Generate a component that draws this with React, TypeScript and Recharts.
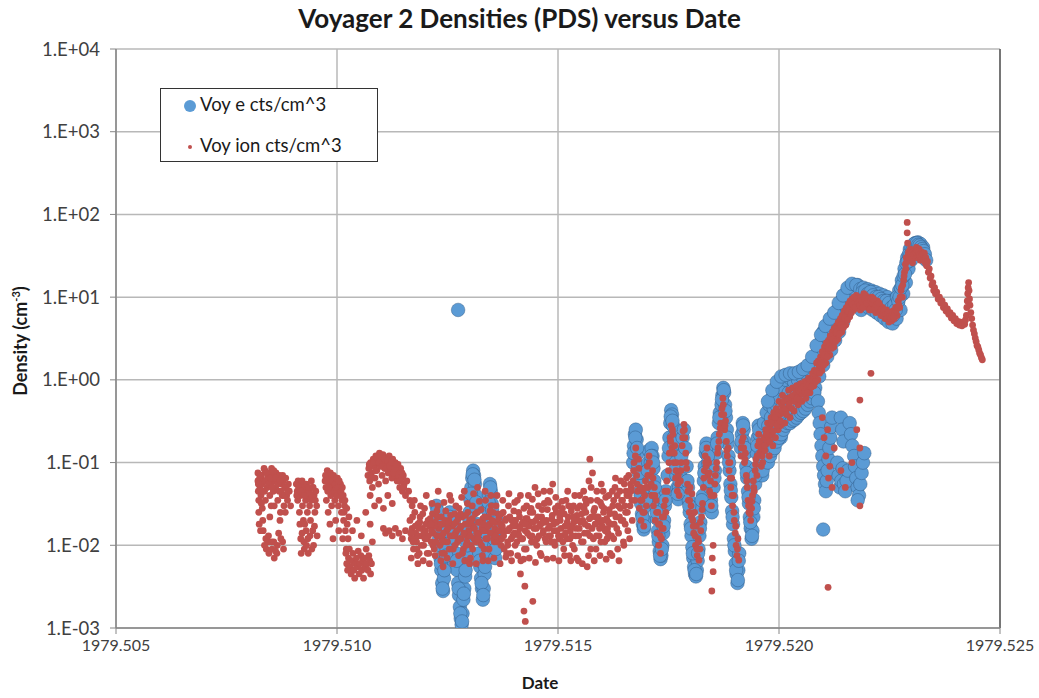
import React from 'react';
import { ScatterChart, Scatter, XAxis, YAxis, CartesianGrid, ReferenceLine } from 'recharts';

type P = [number, number];

const xTicks = [1979.505, 1979.51, 1979.515, 1979.52, 1979.525];
const yTicks = [0.001, 0.01, 0.1, 1, 10, 100, 1000, 10000];

// ---------- Voy ion cts/cm^3 ----------
const ionSeg1: P[] = [
  [1979.50821, 0.075], [1979.50821, 0.06], [1979.50822, 0.045], [1979.50823, 0.035], [1979.50823, 0.025], [1979.50824, 0.018],
  [1979.50825, 0.065], [1979.50826, 0.05], [1979.50828, 0.04], [1979.50829, 0.07], [1979.5083, 0.055], [1979.50831, 0.028],
  [1979.50832, 0.02], [1979.50833, 0.015], [1979.50834, 0.06], [1979.50836, 0.045], [1979.50837, 0.08], [1979.50838, 0.035],
  [1979.50839, 0.012], [1979.5084, 0.009], [1979.50842, 0.05], [1979.50843, 0.065], [1979.50844, 0.011], [1979.50846, 0.008],
  [1979.50847, 0.075], [1979.50848, 0.04], [1979.5085, 0.055], [1979.50851, 0.03], [1979.50852, 0.085], [1979.50853, 0.009],
  [1979.50855, 0.07], [1979.50856, 0.045], [1979.50857, 0.011], [1979.50858, 0.007], [1979.5086, 0.06], [1979.50861, 0.05],
  [1979.50862, 0.075], [1979.50864, 0.008], [1979.50865, 0.01], [1979.50866, 0.035], [1979.50868, 0.065], [1979.50869, 0.045],
  [1979.5087, 0.07], [1979.50872, 0.025], [1979.50873, 0.012], [1979.50875, 0.055], [1979.50876, 0.04], [1979.50878, 0.06],
  [1979.50879, 0.009], [1979.5088, 0.03], [1979.50882, 0.05], [1979.50884, 0.065], [1979.50886, 0.04], [1979.50888, 0.035],
  [1979.5089, 0.055], [1979.50892, 0.045], [1979.50895, 0.03],
  [1979.50822, 0.055], [1979.50827, 0.07], [1979.50831, 0.045], [1979.50835, 0.085], [1979.50838, 0.06], [1979.50841, 0.075],
  [1979.50845, 0.055], [1979.50849, 0.065], [1979.50853, 0.05], [1979.50857, 0.08], [1979.50861, 0.065], [1979.50866, 0.055],
  [1979.50871, 0.06], [1979.50874, 0.045], [1979.50877, 0.07], [1979.50881, 0.04], [1979.50885, 0.05], [1979.50889, 0.045],
  [1979.50827, 0.015], [1979.50836, 0.01], [1979.50845, 0.013], [1979.50852, 0.011], [1979.50861, 0.0085], [1979.50868, 0.014],
  [1979.50877, 0.011], [1979.50829, 0.032], [1979.50848, 0.022], [1979.50858, 0.03], [1979.50871, 0.02], [1979.50883, 0.025],
];
const ionSeg2: P[] = [
  [1979.50908, 0.055], [1979.5091, 0.045], [1979.50911, 0.035], [1979.50912, 0.06], [1979.50914, 0.05], [1979.50915, 0.025],
  [1979.50916, 0.018], [1979.50917, 0.04], [1979.50918, 0.012], [1979.50919, 0.008], [1979.5092, 0.055], [1979.50922, 0.03],
  [1979.50923, 0.045], [1979.50924, 0.02], [1979.50925, 0.011], [1979.50926, 0.009], [1979.50928, 0.05], [1979.50929, 0.035],
  [1979.5093, 0.015], [1979.50932, 0.04], [1979.50933, 0.025], [1979.50934, 0.012], [1979.50935, 0.008], [1979.50937, 0.045],
  [1979.50938, 0.03], [1979.5094, 0.02], [1979.50941, 0.035], [1979.50942, 0.06], [1979.50944, 0.05], [1979.50945, 0.015],
  [1979.50947, 0.01], [1979.50948, 0.04], [1979.5095, 0.025], [1979.50952, 0.045], [1979.50954, 0.03], [1979.50955, 0.013],
  [1979.50909, 0.04], [1979.50913, 0.052], [1979.50918, 0.045], [1979.50921, 0.06], [1979.50926, 0.04], [1979.50931, 0.055],
  [1979.50936, 0.05], [1979.50939, 0.042], [1979.50943, 0.038], [1979.50946, 0.05], [1979.50951, 0.035], [1979.50921, 0.014],
  [1979.50927, 0.018], [1979.50931, 0.01], [1979.50939, 0.013], [1979.50943, 0.009], [1979.50949, 0.017],
];
const ionSeg3: P[] = [
  [1979.50973, 0.06], [1979.50975, 0.05], [1979.50976, 0.035], [1979.50978, 0.08], [1979.50979, 0.045], [1979.5098, 0.025],
  [1979.50982, 0.065], [1979.50983, 0.055], [1979.50984, 0.018], [1979.50986, 0.04], [1979.50987, 0.07], [1979.50988, 0.03],
  [1979.5099, 0.05], [1979.50991, 0.012], [1979.50993, 0.045], [1979.50994, 0.06], [1979.50995, 0.035], [1979.50997, 0.02],
  [1979.50998, 0.05], [1979.51, 0.04], [1979.51001, 0.065], [1979.51003, 0.03], [1979.51004, 0.015], [1979.51006, 0.045],
  [1979.51008, 0.055], [1979.5101, 0.025], [1979.51011, 0.035], [1979.51013, 0.012], [1979.51015, 0.02], [1979.51017, 0.03],
  [1979.51019, 0.015], [1979.51021, 0.009], [1979.51023, 0.018], [1979.51025, 0.012], [1979.51027, 0.022],
  [1979.50974, 0.07], [1979.50977, 0.06], [1979.50981, 0.05], [1979.50985, 0.075], [1979.50989, 0.06], [1979.50992, 0.07],
  [1979.50996, 0.055], [1979.50999, 0.065], [1979.51002, 0.05], [1979.51005, 0.06], [1979.51007, 0.04], [1979.51009, 0.045],
  [1979.51012, 0.05], [1979.51014, 0.04], [1979.51016, 0.025], [1979.51018, 0.035], [1979.51022, 0.028],
];
const ionSeg4: P[] = [
  [1979.5102, 0.008], [1979.51022, 0.006], [1979.51024, 0.005], [1979.51026, 0.007], [1979.51028, 0.009], [1979.5103, 0.0055],
  [1979.51032, 0.0045], [1979.51034, 0.0065], [1979.51036, 0.008], [1979.51038, 0.005], [1979.5104, 0.004], [1979.51042, 0.006],
  [1979.51044, 0.007], [1979.51046, 0.0055], [1979.51048, 0.0085], [1979.5105, 0.0045], [1979.51052, 0.006], [1979.51054, 0.0075],
  [1979.51056, 0.005], [1979.51058, 0.0065], [1979.5106, 0.004], [1979.51062, 0.007], [1979.51064, 0.0055], [1979.51066, 0.009],
  [1979.51068, 0.006], [1979.5107, 0.005], [1979.51072, 0.0075], [1979.51074, 0.0065], [1979.51076, 0.0045], [1979.51078, 0.006],
  [1979.51035, 0.015], [1979.51045, 0.02], [1979.51055, 0.013], [1979.51065, 0.025], [1979.51075, 0.018], [1979.5108, 0.011],
];
const ionSeg5: P[] = [
  [1979.5107, 0.07], [1979.51072, 0.085], [1979.51074, 0.06], [1979.51076, 0.1], [1979.51078, 0.075], [1979.5108, 0.05],
  [1979.51082, 0.11], [1979.51084, 0.09], [1979.51086, 0.065], [1979.51088, 0.12], [1979.5109, 0.08], [1979.51092, 0.1],
  [1979.51094, 0.055], [1979.51096, 0.13], [1979.51098, 0.09], [1979.511, 0.115], [1979.51102, 0.07], [1979.51104, 0.125],
  [1979.51106, 0.1], [1979.51108, 0.085], [1979.5111, 0.06], [1979.51112, 0.11], [1979.51114, 0.095], [1979.51116, 0.075],
  [1979.51118, 0.12], [1979.5112, 0.1], [1979.51122, 0.08], [1979.51124, 0.065], [1979.51126, 0.11], [1979.51128, 0.09],
  [1979.5113, 0.07], [1979.51132, 0.1], [1979.51134, 0.08], [1979.51136, 0.06], [1979.51138, 0.095], [1979.5114, 0.075],
  [1979.51142, 0.05], [1979.51144, 0.085], [1979.51146, 0.065], [1979.51148, 0.045], [1979.5115, 0.07], [1979.51152, 0.055],
  [1979.51155, 0.04], [1979.51158, 0.06], [1979.51162, 0.045], [1979.51165, 0.035], [1979.5117, 0.03],
  [1979.51075, 0.04], [1979.51085, 0.03], [1979.51095, 0.035], [1979.51105, 0.028], [1979.51115, 0.04], [1979.51125, 0.032],
  [1979.51105, 0.016], [1979.5111, 0.014], [1979.51118, 0.015], [1979.51125, 0.013], [1979.51132, 0.016], [1979.5114, 0.014],
  [1979.51148, 0.012], [1979.51155, 0.015],
  [1979.51073, 0.095], [1979.51079, 0.065], [1979.51083, 0.1], [1979.51087, 0.08], [1979.51091, 0.115], [1979.51095, 0.1],
  [1979.51099, 0.12], [1979.51103, 0.09], [1979.51107, 0.11], [1979.51111, 0.085], [1979.51115, 0.105], [1979.51119, 0.09],
  [1979.51123, 0.1], [1979.51127, 0.075], [1979.51131, 0.085], [1979.51135, 0.095], [1979.51139, 0.07], [1979.51143, 0.06],
  [1979.51147, 0.075], [1979.51151, 0.05],
];
const ionSeg6: P[] = [
  [1979.51165, 0.02], [1979.51168, 0.012], [1979.5117, 0.016], [1979.51173, 0.009], [1979.51176, 0.025], [1979.51178, 0.014],
  [1979.5118, 0.011], [1979.51183, 0.018], [1979.51183, 0.006], [1979.51186, 0.008], [1979.51188, 0.022], [1979.5119, 0.013],
  [1979.51193, 0.016], [1979.51196, 0.01], [1979.51198, 0.028], [1979.512, 0.015], [1979.51203, 0.012], [1979.51206, 0.02],
  [1979.51208, 0.008], [1979.5121, 0.017], [1979.51213, 0.011], [1979.51216, 0.024], [1979.51218, 0.014], [1979.5122, 0.009],
  [1979.51223, 0.019], [1979.51226, 0.013], [1979.51228, 0.03], [1979.5123, 0.016], [1979.51233, 0.01], [1979.51236, 0.022],
  [1979.51238, 0.012], [1979.5124, 0.018], [1979.5124, 0.0055], [1979.51243, 0.008], [1979.51246, 0.026], [1979.51248, 0.015],
  [1979.5125, 0.011], [1979.51253, 0.02], [1979.51256, 0.013], [1979.51258, 0.035], [1979.5126, 0.017], [1979.51263, 0.009],
  [1979.51266, 0.024], [1979.51268, 0.014], [1979.5127, 0.019], [1979.51273, 0.011], [1979.51276, 0.028], [1979.51278, 0.016],
  [1979.5128, 0.012], [1979.51283, 0.022], [1979.51286, 0.009], [1979.51288, 0.045], [1979.5129, 0.018], [1979.51293, 0.013],
  [1979.51296, 0.025], [1979.51298, 0.015], [1979.513, 0.02], [1979.513, 0.006], [1979.51303, 0.01], [1979.51306, 0.03],
  [1979.51308, 0.017], [1979.5131, 0.012], [1979.51313, 0.024], [1979.51316, 0.014], [1979.51318, 0.05], [1979.5132, 0.019],
  [1979.51323, 0.011], [1979.51326, 0.027], [1979.51328, 0.016], [1979.5133, 0.021], [1979.5133, 0.0065], [1979.51333, 0.009],
  [1979.51336, 0.035], [1979.51338, 0.015], [1979.5134, 0.012], [1979.51343, 0.022], [1979.51346, 0.018], [1979.51348, 0.04],
  [1979.5135, 0.014], [1979.51353, 0.025], [1979.51356, 0.011], [1979.51358, 0.019], [1979.5136, 0.03], [1979.51363, 0.015],
  [1979.51366, 0.021], [1979.51368, 0.012],
  [1979.51167, 0.014], [1979.51171, 0.022], [1979.51174, 0.012], [1979.51177, 0.017], [1979.51181, 0.009], [1979.51184, 0.013],
  [1979.51187, 0.019], [1979.51191, 0.01], [1979.51194, 0.024], [1979.51197, 0.014], [1979.51201, 0.018], [1979.51204, 0.008],
  [1979.51207, 0.013], [1979.51211, 0.021], [1979.51214, 0.015], [1979.51217, 0.01], [1979.51221, 0.017], [1979.51224, 0.011],
  [1979.51227, 0.022], [1979.51231, 0.013], [1979.51234, 0.018], [1979.51237, 0.008], [1979.51241, 0.014], [1979.51244, 0.02],
  [1979.51247, 0.011], [1979.51251, 0.016], [1979.51254, 0.009], [1979.51257, 0.023], [1979.51261, 0.013], [1979.51264, 0.018],
  [1979.51267, 0.01], [1979.51271, 0.015], [1979.51274, 0.021], [1979.51277, 0.012], [1979.51281, 0.017], [1979.51284, 0.008],
  [1979.51287, 0.014], [1979.51291, 0.023], [1979.51294, 0.011], [1979.51297, 0.018], [1979.51301, 0.013], [1979.51304, 0.02],
  [1979.51307, 0.009], [1979.51311, 0.016], [1979.51314, 0.011], [1979.51317, 0.025], [1979.51321, 0.014], [1979.51324, 0.019],
  [1979.51327, 0.01], [1979.51331, 0.015], [1979.51334, 0.022], [1979.51337, 0.012], [1979.51341, 0.017], [1979.51344, 0.009],
  [1979.51347, 0.014], [1979.51351, 0.02], [1979.51354, 0.012], [1979.51357, 0.016], [1979.51361, 0.011], [1979.51364, 0.024],
  [1979.51367, 0.015],
];
const ionSeg7: P[] = [
  [1979.5137, 0.018], [1979.51373, 0.012], [1979.51376, 0.025], [1979.51378, 0.009], [1979.5138, 0.015], [1979.51383, 0.021],
  [1979.51386, 0.011], [1979.51388, 0.03], [1979.5139, 0.016], [1979.51393, 0.008], [1979.51396, 0.02], [1979.51398, 0.013],
  [1979.514, 0.026], [1979.51403, 0.01], [1979.51406, 0.017], [1979.51408, 0.035], [1979.5141, 0.014], [1979.51413, 0.022],
  [1979.51416, 0.0065], [1979.51418, 0.018], [1979.5142, 0.012], [1979.51423, 0.028], [1979.51426, 0.015], [1979.51428, 0.009],
  [1979.5143, 0.021], [1979.51433, 0.04], [1979.51436, 0.013], [1979.51438, 0.019], [1979.5144, 0.011], [1979.51443, 0.025],
  [1979.51446, 0.016], [1979.51448, 0.05], [1979.5145, 0.02], [1979.51453, 0.012], [1979.51456, 0.03], [1979.51458, 0.017],
  [1979.5146, 0.008], [1979.51463, 0.022], [1979.51466, 0.014], [1979.51468, 0.045], [1979.5147, 0.019], [1979.51473, 0.011],
  [1979.51476, 0.027], [1979.51478, 0.016], [1979.5148, 0.033], [1979.51483, 0.013], [1979.51486, 0.021], [1979.51488, 0.055],
  [1979.5149, 0.018], [1979.51493, 0.01], [1979.51496, 0.025], [1979.51498, 0.015], [1979.515, 0.03], [1979.51503, 0.012],
  [1979.51425, 0.0032], [1979.51443, 0.0021], [1979.51423, 0.0016], [1979.51426, 0.0012], [1979.51415, 0.0045],
  [1979.51371, 0.01], [1979.51374, 0.017], [1979.51377, 0.013], [1979.51381, 0.02], [1979.51384, 0.008], [1979.51387, 0.015],
  [1979.51391, 0.022], [1979.51394, 0.012], [1979.51397, 0.017], [1979.51401, 0.014], [1979.51404, 0.02], [1979.51407, 0.011],
  [1979.51411, 0.025], [1979.51414, 0.016], [1979.51417, 0.012], [1979.51421, 0.019], [1979.51424, 0.009], [1979.51427, 0.021],
  [1979.51431, 0.014], [1979.51434, 0.017], [1979.51437, 0.025], [1979.51441, 0.013], [1979.51444, 0.019], [1979.51447, 0.011],
  [1979.51451, 0.016], [1979.51454, 0.022], [1979.51457, 0.013], [1979.51461, 0.018], [1979.51464, 0.027], [1979.51467, 0.015],
  [1979.51471, 0.012], [1979.51474, 0.02], [1979.51477, 0.035], [1979.51481, 0.017], [1979.51484, 0.011], [1979.51487, 0.023],
  [1979.51491, 0.015], [1979.51494, 0.028], [1979.51497, 0.019], [1979.51501, 0.013], [1979.51504, 0.022],
];
const ionSeg8: P[] = [
  [1979.51505, 0.02], [1979.51508, 0.013], [1979.5151, 0.028], [1979.51513, 0.009], [1979.51516, 0.017], [1979.51518, 0.035],
  [1979.5152, 0.012], [1979.51523, 0.022], [1979.51526, 0.0075], [1979.51528, 0.015], [1979.5153, 0.026], [1979.51533, 0.01],
  [1979.51536, 0.019], [1979.51538, 0.04], [1979.5154, 0.013], [1979.51543, 0.023], [1979.51546, 0.0065], [1979.51548, 0.016],
  [1979.5155, 0.03], [1979.51553, 0.011], [1979.51556, 0.02], [1979.51558, 0.045], [1979.5156, 0.014], [1979.51563, 0.025],
  [1979.51566, 0.0055], [1979.51568, 0.017], [1979.5157, 0.06], [1979.51572, 0.11], [1979.51574, 0.035], [1979.51576, 0.022],
  [1979.51578, 0.075], [1979.5158, 0.012], [1979.51583, 0.028], [1979.51586, 0.009], [1979.51588, 0.045], [1979.5159, 0.019],
  [1979.51593, 0.013], [1979.51596, 0.033], [1979.51598, 0.055], [1979.516, 0.017], [1979.51603, 0.025], [1979.51606, 0.011],
  [1979.51608, 0.038], [1979.5161, 0.021], [1979.51613, 0.014], [1979.51616, 0.027], [1979.51618, 0.008], [1979.5162, 0.018],
  [1979.51623, 0.045], [1979.51626, 0.012], [1979.51628, 0.024], [1979.5163, 0.065], [1979.51633, 0.016], [1979.51636, 0.03],
  [1979.51638, 0.0065], [1979.5164, 0.045], [1979.51643, 0.02], [1979.51646, 0.035], [1979.51648, 0.011], [1979.5165, 0.055],
  [1979.51653, 0.025], [1979.51656, 0.04], [1979.51658, 0.015], [1979.5166, 0.07], [1979.51663, 0.03], [1979.51666, 0.05],
  [1979.51668, 0.02],
  [1979.51507, 0.016], [1979.51511, 0.011], [1979.51514, 0.024], [1979.51517, 0.014], [1979.51521, 0.019], [1979.51524, 0.03],
  [1979.51527, 0.012], [1979.51531, 0.017], [1979.51534, 0.022], [1979.51537, 0.009], [1979.51541, 0.016], [1979.51544, 0.028],
  [1979.51547, 0.013], [1979.51551, 0.019], [1979.51554, 0.024], [1979.51557, 0.011], [1979.51561, 0.018], [1979.51564, 0.032],
  [1979.51567, 0.014], [1979.51571, 0.021], [1979.51574, 0.009], [1979.51577, 0.016], [1979.51581, 0.026], [1979.51584, 0.018],
  [1979.51587, 0.013], [1979.51591, 0.022], [1979.51594, 0.016], [1979.51597, 0.011], [1979.51601, 0.02], [1979.51604, 0.028],
  [1979.51607, 0.015], [1979.51611, 0.012], [1979.51614, 0.019], [1979.51617, 0.024], [1979.51621, 0.013], [1979.51624, 0.03],
  [1979.51627, 0.018], [1979.51631, 0.022], [1979.51634, 0.04], [1979.51637, 0.014], [1979.51641, 0.028], [1979.51644, 0.035],
  [1979.51647, 0.02], [1979.51651, 0.03], [1979.51654, 0.045], [1979.51657, 0.025], [1979.51661, 0.04], [1979.51664, 0.055],
  [1979.51667, 0.035],
];
const ionBandEdges: P[] = [
  [1979.51168, 0.007], [1979.51175, 0.035], [1979.51182, 0.0075], [1979.51189, 0.03], [1979.51195, 0.0065], [1979.51202, 0.04],
  [1979.51209, 0.006], [1979.51215, 0.032], [1979.51222, 0.0075], [1979.51229, 0.045], [1979.51235, 0.0065], [1979.51242, 0.033],
  [1979.51249, 0.007], [1979.51255, 0.04], [1979.51262, 0.006], [1979.51269, 0.03], [1979.51275, 0.0075], [1979.51282, 0.038],
  [1979.51289, 0.0065], [1979.51295, 0.032], [1979.51302, 0.007], [1979.51309, 0.042], [1979.51315, 0.006], [1979.51322, 0.034],
  [1979.51329, 0.0075], [1979.51335, 0.045], [1979.51342, 0.0065], [1979.51349, 0.03], [1979.51355, 0.007], [1979.51362, 0.04],
  [1979.51369, 0.006], [1979.51375, 0.035], [1979.51382, 0.0072], [1979.51389, 0.042], [1979.51395, 0.0065], [1979.51402, 0.033],
  [1979.51409, 0.0075], [1979.51415, 0.04], [1979.51422, 0.0068], [1979.51429, 0.03], [1979.51435, 0.007], [1979.51442, 0.036],
  [1979.51449, 0.0062], [1979.51455, 0.042], [1979.51462, 0.0075], [1979.51469, 0.032], [1979.51475, 0.0068], [1979.51482, 0.045],
  [1979.51489, 0.007], [1979.51495, 0.038], [1979.51502, 0.0065], [1979.51509, 0.034], [1979.51515, 0.0075], [1979.51522, 0.045],
  [1979.51529, 0.0065], [1979.51535, 0.03], [1979.51542, 0.007], [1979.51549, 0.04], [1979.51555, 0.006], [1979.51562, 0.036],
  [1979.51569, 0.0075], [1979.51575, 0.05], [1979.51582, 0.0065], [1979.51589, 0.035], [1979.51595, 0.0075], [1979.51602, 0.045],
  [1979.51609, 0.0068], [1979.51615, 0.04], [1979.51622, 0.0075], [1979.51629, 0.05], [1979.51635, 0.009], [1979.51642, 0.06],
  [1979.51649, 0.01], [1979.51655, 0.065], [1979.51662, 0.012],
  [1979.51172, 0.011], [1979.51186, 0.016], [1979.51199, 0.012], [1979.51213, 0.018], [1979.51226, 0.026], [1979.51239, 0.011],
  [1979.51252, 0.019], [1979.51266, 0.013], [1979.51279, 0.024], [1979.51292, 0.01], [1979.51306, 0.021], [1979.51319, 0.012],
  [1979.51332, 0.018], [1979.51346, 0.026], [1979.51359, 0.013], [1979.51372, 0.024], [1979.51386, 0.01], [1979.51399, 0.02],
  [1979.51412, 0.013], [1979.51426, 0.018], [1979.51439, 0.028], [1979.51452, 0.01], [1979.51466, 0.02], [1979.51479, 0.013],
  [1979.51492, 0.011], [1979.51506, 0.025], [1979.51519, 0.017], [1979.51532, 0.013], [1979.51546, 0.02], [1979.51559, 0.028],
  [1979.51572, 0.013], [1979.51586, 0.022], [1979.51599, 0.03], [1979.51612, 0.016], [1979.51626, 0.035], [1979.51639, 0.022],
  [1979.51652, 0.018], [1979.51665, 0.045],
];
const ionColumns: P[] = [
  [1979.5167, 0.06], [1979.51672, 0.1], [1979.51674, 0.035], [1979.51676, 0.15], [1979.51678, 0.07], [1979.5168, 0.045],
  [1979.51682, 0.11], [1979.51684, 0.028], [1979.51686, 0.05], [1979.51688, 0.02], [1979.5169, 0.035], [1979.51692, 0.025],
  [1979.51694, 0.017], [1979.51696, 0.04], [1979.51698, 0.06], [1979.517, 0.03], [1979.51702, 0.09], [1979.51704, 0.05],
  [1979.51706, 0.12],
  [1979.5171, 0.07], [1979.51712, 0.04], [1979.51714, 0.08], [1979.51716, 0.03], [1979.51718, 0.05], [1979.5172, 0.02],
  [1979.51722, 0.035], [1979.51724, 0.014], [1979.51726, 0.025], [1979.51728, 0.01], [1979.5173, 0.018], [1979.51732, 0.008],
  [1979.51734, 0.012], [1979.51736, 0.022], [1979.51738, 0.016], [1979.5174, 0.03], [1979.51742, 0.045], [1979.51744, 0.025],
  [1979.51746, 0.06],
  [1979.5175, 0.08], [1979.51752, 0.13], [1979.51754, 0.2], [1979.51756, 0.28], [1979.51758, 0.15], [1979.5176, 0.22],
  [1979.51762, 0.1], [1979.51764, 0.16], [1979.51766, 0.065], [1979.51768, 0.1], [1979.5177, 0.045], [1979.51772, 0.07],
  [1979.51774, 0.04],
  [1979.51777, 0.06], [1979.51779, 0.1], [1979.51781, 0.16], [1979.51783, 0.24], [1979.51785, 0.29], [1979.51787, 0.2],
  [1979.51789, 0.13], [1979.51791, 0.085], [1979.51793, 0.055], [1979.51795, 0.035], [1979.51797, 0.025],
  [1979.51799, 0.05], [1979.51801, 0.03], [1979.51803, 0.042], [1979.51805, 0.02], [1979.51807, 0.014], [1979.51809, 0.025],
  [1979.51811, 0.01], [1979.51813, 0.017], [1979.51815, 0.0075], [1979.51817, 0.012], [1979.51819, 0.0066], [1979.51821, 0.009],
  [1979.51823, 0.015], [1979.51825, 0.022], [1979.51827, 0.032],
  [1979.51848, 0.0028], [1979.51851, 0.0048], [1979.51851, 0.01], [1979.51849, 0.007],
  [1979.51829, 0.05], [1979.51831, 0.08], [1979.51833, 0.12], [1979.51835, 0.09], [1979.51837, 0.15], [1979.51839, 0.07],
  [1979.51841, 0.1], [1979.51843, 0.045], [1979.51845, 0.06], [1979.51847, 0.03],
  [1979.51853, 0.04], [1979.51856, 0.07], [1979.51859, 0.1], [1979.51862, 0.15], [1979.51865, 0.22], [1979.51868, 0.3],
  [1979.51871, 0.45], [1979.51873, 0.6], [1979.51875, 0.38], [1979.51877, 0.25], [1979.51879, 0.32], [1979.51881, 0.18],
  [1979.51883, 0.12], [1979.51885, 0.15], [1979.51887, 0.08], [1979.51889, 0.1], [1979.51891, 0.05], [1979.51893, 0.065],
  [1979.51895, 0.03], [1979.51897, 0.04], [1979.51899, 0.02], [1979.51901, 0.014], [1979.51903, 0.01], [1979.51905, 0.0075],
  [1979.51907, 0.012], [1979.51909, 0.0066],
  [1979.51914, 0.12], [1979.51916, 0.18], [1979.51918, 0.24], [1979.5192, 0.15], [1979.51922, 0.1], [1979.51924, 0.13],
  [1979.51926, 0.07], [1979.51928, 0.05], [1979.5193, 0.035], [1979.51932, 0.025], [1979.51934, 0.03], [1979.51936, 0.02],
  [1979.51938, 0.028], [1979.5194, 0.04], [1979.51942, 0.06], [1979.51944, 0.045], [1979.51946, 0.08], [1979.51948, 0.11],
  [1979.5195, 0.07], [1979.51952, 0.16], [1979.51954, 0.22], [1979.51956, 0.13], [1979.51958, 0.18], [1979.5196, 0.09],
  [1979.51962, 0.12], [1979.51964, 0.15],
  [1979.51671, 0.08], [1979.51675, 0.12], [1979.51679, 0.055], [1979.51683, 0.085], [1979.51687, 0.035], [1979.51691, 0.045],
  [1979.51695, 0.025], [1979.51699, 0.05], [1979.51703, 0.07], [1979.51707, 0.1], [1979.51711, 0.055], [1979.51715, 0.065],
  [1979.51719, 0.04], [1979.51723, 0.025], [1979.51727, 0.018], [1979.51731, 0.013], [1979.51735, 0.016], [1979.51739, 0.022],
  [1979.51743, 0.035], [1979.51747, 0.045], [1979.51751, 0.1], [1979.51755, 0.18], [1979.51759, 0.25], [1979.51763, 0.13],
  [1979.51767, 0.08], [1979.51771, 0.055], [1979.51778, 0.08], [1979.51782, 0.2], [1979.51786, 0.25], [1979.5179, 0.1],
  [1979.51794, 0.045], [1979.51798, 0.035], [1979.51802, 0.022], [1979.51806, 0.017], [1979.5181, 0.013], [1979.51814, 0.009],
  [1979.51818, 0.011], [1979.51822, 0.019], [1979.51826, 0.027], [1979.5183, 0.065], [1979.51834, 0.1], [1979.51838, 0.11],
  [1979.51842, 0.075], [1979.51846, 0.04], [1979.51855, 0.055], [1979.51858, 0.085], [1979.51861, 0.13], [1979.51864, 0.18],
  [1979.51867, 0.26], [1979.5187, 0.38], [1979.51874, 0.5], [1979.51878, 0.28], [1979.51882, 0.14], [1979.51886, 0.1],
  [1979.5189, 0.065], [1979.51894, 0.04], [1979.51898, 0.025], [1979.51902, 0.017], [1979.51906, 0.009], [1979.51915, 0.15],
  [1979.51919, 0.2], [1979.51923, 0.11], [1979.51927, 0.06], [1979.51931, 0.03], [1979.51935, 0.024], [1979.51939, 0.034],
  [1979.51943, 0.05], [1979.51947, 0.095], [1979.51951, 0.12], [1979.51955, 0.18], [1979.51959, 0.15], [1979.51963, 0.1],
];
const ionRise: P[] = [
  [1979.51966, 0.2], [1979.51968, 0.14], [1979.5197, 0.25], [1979.51972, 0.17], [1979.51974, 0.3], [1979.51976, 0.2],
  [1979.51978, 0.12], [1979.5198, 0.28], [1979.51982, 0.35], [1979.51984, 0.22], [1979.51986, 0.16], [1979.51988, 0.4],
  [1979.5199, 0.3], [1979.51992, 0.2], [1979.51994, 0.45], [1979.51996, 0.33], [1979.51998, 0.25], [1979.52, 0.55],
  [1979.52002, 0.38], [1979.52004, 0.28], [1979.52006, 0.5], [1979.52008, 0.65], [1979.5201, 0.4], [1979.52013, 0.3],
  [1979.52016, 0.6], [1979.52019, 0.45], [1979.52022, 0.75], [1979.52025, 0.35], [1979.52028, 0.55], [1979.52031, 0.8],
  [1979.52034, 0.42], [1979.52037, 0.6], [1979.5204, 0.85], [1979.52043, 0.5], [1979.52046, 0.65], [1979.52049, 0.9],
  [1979.52052, 0.55], [1979.52055, 0.7], [1979.52058, 0.95], [1979.52061, 0.6], [1979.52064, 0.8], [1979.52067, 1.05],
  [1979.5207, 0.7], [1979.52073, 0.95], [1979.52076, 1.2], [1979.52079, 0.85], [1979.52082, 1.1], [1979.52085, 1.6],
  [1979.52088, 1.0], [1979.52091, 1.4], [1979.52094, 1.9], [1979.52097, 1.3], [1979.521, 1.8], [1979.52103, 2.5],
  [1979.52106, 1.6], [1979.52109, 2.2], [1979.52112, 3.0], [1979.52115, 2.0], [1979.52118, 2.8], [1979.52121, 3.8],
  [1979.52124, 2.5], [1979.52127, 3.4], [1979.5213, 4.5], [1979.52133, 3.1], [1979.52136, 4.2], [1979.52139, 5.5],
  [1979.52142, 3.8], [1979.52145, 5.0], [1979.52148, 6.8], [1979.52151, 4.6], [1979.52154, 6.2], [1979.52157, 8.2],
  [1979.5216, 5.8], [1979.52163, 7.5], [1979.52166, 9.5], [1979.52169, 7], [1979.52172, 8.5], [1979.52175, 10.5],
  [1979.52178, 7.5],
  [1979.51967, 0.16], [1979.51971, 0.22], [1979.51975, 0.25], [1979.51979, 0.18], [1979.51983, 0.3], [1979.51987, 0.24],
  [1979.51991, 0.35], [1979.51995, 0.28], [1979.51999, 0.4], [1979.52003, 0.32], [1979.52007, 0.42], [1979.52011, 0.55],
  [1979.52014, 0.45], [1979.52017, 0.38], [1979.5202, 0.58], [1979.52023, 0.5], [1979.52026, 0.62], [1979.52029, 0.45],
  [1979.52032, 0.65], [1979.52035, 0.55], [1979.52038, 0.72], [1979.52041, 0.6], [1979.52044, 0.75], [1979.52047, 0.58],
  [1979.5205, 0.78], [1979.52053, 0.68], [1979.52056, 0.82], [1979.52059, 0.72], [1979.52062, 0.9], [1979.52065, 0.7],
  [1979.52068, 0.88], [1979.52071, 1.0], [1979.52074, 0.82], [1979.52077, 1.0], [1979.5208, 1.3], [1979.52083, 0.95],
  [1979.52086, 1.25], [1979.52089, 1.7], [1979.52092, 1.2], [1979.52095, 1.6], [1979.52098, 2.2], [1979.52101, 1.5],
  [1979.52104, 2.0], [1979.52107, 2.8], [1979.5211, 1.9], [1979.52113, 2.5], [1979.52116, 3.4], [1979.52119, 2.4],
  [1979.52122, 3.1], [1979.52125, 4.2], [1979.52128, 2.9], [1979.52131, 3.8], [1979.52134, 5.0], [1979.52137, 3.6],
  [1979.5214, 4.6], [1979.52143, 6.0], [1979.52146, 4.3], [1979.52149, 5.6], [1979.52152, 7.4], [1979.52155, 5.3],
  [1979.52158, 6.8], [1979.52161, 9.0], [1979.52164, 6.5], [1979.52167, 8.2], [1979.5217, 10], [1979.52173, 7.5],
  [1979.52176, 9.5], [1979.52179, 8.5],
];
const ionBranch: P[] = [
  [1979.52098, 0.35], [1979.52102, 0.2], [1979.52106, 0.12], [1979.5211, 0.25], [1979.52115, 0.09], [1979.5212, 0.05],
  [1979.52112, 0.065], [1979.52125, 0.15], [1979.52183, 0.57], [1979.52176, 0.25], [1979.52208, 1.2], [1979.52183, 0.15],
  [1979.52183, 0.03], [1979.52111, 0.0031], [1979.5214, 0.08], [1979.5215, 0.05], [1979.52165, 0.1],
];
const ionPeak: P[] = [
  [1979.52182, 9], [1979.52184, 7], [1979.52186, 10], [1979.52189, 8], [1979.52192, 11], [1979.52195, 8.5], [1979.52198, 10],
  [1979.52201, 7.5], [1979.52204, 9], [1979.52207, 8], [1979.5221, 10], [1979.52213, 7], [1979.52216, 8.5], [1979.52219, 6.5],
  [1979.52222, 9], [1979.52225, 7], [1979.52228, 8], [1979.52231, 6], [1979.52234, 7.5], [1979.52237, 6.5], [1979.5224, 5.5],
  [1979.52243, 7], [1979.52246, 6], [1979.52249, 5], [1979.52252, 6.5], [1979.52255, 5.2], [1979.52258, 6.8], [1979.52261, 5.5],
  [1979.52264, 7.5], [1979.52267, 6], [1979.5227, 9], [1979.52273, 7.5], [1979.52276, 12], [1979.52279, 10], [1979.52282, 16],
  [1979.52284, 20], [1979.52286, 25], [1979.52288, 30], [1979.5229, 60], [1979.5229, 80], [1979.52291, 45], [1979.52293, 35],
  [1979.52295, 28], [1979.52297, 38], [1979.52299, 32], [1979.52302, 26], [1979.52305, 36], [1979.52308, 30], [1979.52311, 40],
  [1979.52314, 33], [1979.52317, 38], [1979.5232, 28], [1979.52323, 35], [1979.52326, 30], [1979.52329, 34],
  [1979.52183, 8], [1979.52187, 9], [1979.5219, 7.5], [1979.52193, 9.5], [1979.52196, 10.5], [1979.52199, 8.5], [1979.52202, 9.5],
  [1979.52205, 7], [1979.52208, 9], [1979.52211, 8.5], [1979.52214, 9.5], [1979.52217, 7.5], [1979.5222, 8], [1979.52223, 7.5],
  [1979.52226, 8.5], [1979.52229, 6.5], [1979.52232, 7], [1979.52235, 6], [1979.52238, 7], [1979.52241, 6.2], [1979.52244, 5.5],
  [1979.52247, 6.5], [1979.5225, 5.8], [1979.52253, 5.5], [1979.52256, 6], [1979.52259, 5.8], [1979.52262, 6.5], [1979.52265, 6.8],
  [1979.52268, 7.5], [1979.52271, 8], [1979.52274, 10], [1979.52277, 13], [1979.5228, 14], [1979.52283, 18], [1979.52287, 22],
  [1979.52289, 27], [1979.52292, 32], [1979.52294, 30], [1979.52298, 34], [1979.52301, 30], [1979.52304, 32], [1979.52307, 34],
  [1979.5231, 35], [1979.52313, 36], [1979.52316, 35], [1979.52319, 33], [1979.52322, 31], [1979.52325, 33], [1979.52328, 28],
  [1979.52331, 26],
];
const ionDecline: P[] = [
  [1979.52332, 30], [1979.52334, 24], [1979.52336, 27], [1979.52338, 20], [1979.5234, 22], [1979.52342, 17], [1979.52344, 18],
  [1979.52346, 14], [1979.52348, 15], [1979.5235, 12], [1979.52352, 13], [1979.52354, 11], [1979.52357, 11.5], [1979.5236, 9.5],
  [1979.52363, 10], [1979.52366, 8.5], [1979.52369, 9], [1979.52372, 7.5], [1979.52375, 8], [1979.52378, 6.8], [1979.52381, 7.2],
  [1979.52384, 6.2], [1979.52387, 6.5], [1979.5239, 5.6], [1979.52393, 6], [1979.52396, 5.2], [1979.52399, 5.5], [1979.52402, 4.8],
  [1979.52405, 5.1], [1979.52408, 4.6], [1979.52411, 5], [1979.52414, 4.5], [1979.52417, 5], [1979.5242, 4.7], [1979.52422, 5.3],
  [1979.52424, 6], [1979.52425, 7.5], [1979.52426, 9], [1979.52427, 11], [1979.52428, 13], [1979.52429, 15], [1979.5243, 12],
  [1979.52431, 9.5], [1979.52432, 8], [1979.52434, 6.5], [1979.52436, 5.5], [1979.52438, 4.6], [1979.5244, 4], [1979.52442, 3.6],
  [1979.52444, 3.2], [1979.52446, 2.9], [1979.52448, 2.6], [1979.5245, 2.5], [1979.52452, 2.3], [1979.52454, 2.1],
  [1979.52456, 2.0], [1979.52458, 1.85], [1979.5246, 1.75],
];

// ---------- Voy e cts/cm^3 ----------
const eOutlier: P[] = [[1979.51274, 7.0]];
const eSeg1: P[] = [
  [1979.51225, 0.03], [1979.51228, 0.022], [1979.5123, 0.015], [1979.51232, 0.01], [1979.51234, 0.007], [1979.51236, 0.005],
  [1979.51238, 0.0035], [1979.5124, 0.0028], [1979.51242, 0.004], [1979.51245, 0.006], [1979.51248, 0.009], [1979.5125, 0.013],
  [1979.51252, 0.018], [1979.51255, 0.025], [1979.51258, 0.02], [1979.5126, 0.013],
  [1979.51265, 0.02], [1979.51268, 0.012], [1979.5127, 0.008], [1979.51272, 0.005], [1979.51274, 0.0035], [1979.51276, 0.0025],
  [1979.51278, 0.0018], [1979.5128, 0.0013], [1979.51282, 0.0011], [1979.51284, 0.0015], [1979.51286, 0.0022], [1979.51288, 0.003],
  [1979.5129, 0.0042], [1979.51292, 0.006], [1979.51294, 0.0085], [1979.51296, 0.012], [1979.51298, 0.017], [1979.513, 0.025],
  [1979.51302, 0.035], [1979.51304, 0.05], [1979.51306, 0.065], [1979.51308, 0.08], [1979.5131, 0.07], [1979.51312, 0.055],
  [1979.51314, 0.04], [1979.51316, 0.028], [1979.51318, 0.018], [1979.5132, 0.012], [1979.51322, 0.008], [1979.51324, 0.0055],
  [1979.51326, 0.004], [1979.51328, 0.003], [1979.5133, 0.0022], [1979.51332, 0.003], [1979.51334, 0.0045], [1979.51336, 0.007],
  [1979.51338, 0.011], [1979.5134, 0.017], [1979.51342, 0.026], [1979.51344, 0.04], [1979.51346, 0.055], [1979.51348, 0.045],
  [1979.5135, 0.032], [1979.51352, 0.022], [1979.51354, 0.015], [1979.51356, 0.01], [1979.51358, 0.007], [1979.5136, 0.012],
  [1979.51362, 0.02],
  [1979.51227, 0.026], [1979.51231, 0.012], [1979.51235, 0.006], [1979.51239, 0.003], [1979.51243, 0.005], [1979.51247, 0.0075],
  [1979.51251, 0.015], [1979.51256, 0.022], [1979.51262, 0.016], [1979.51267, 0.015], [1979.51271, 0.0065], [1979.51275, 0.003],
  [1979.51279, 0.0015], [1979.51283, 0.0012], [1979.51287, 0.0026], [1979.51291, 0.005], [1979.51295, 0.01], [1979.51299, 0.021],
  [1979.51303, 0.042], [1979.51307, 0.072], [1979.51311, 0.062], [1979.51315, 0.033], [1979.51319, 0.015], [1979.51323, 0.0065],
  [1979.51327, 0.0035], [1979.51331, 0.0025], [1979.51335, 0.0055], [1979.51339, 0.014], [1979.51343, 0.033], [1979.51347, 0.05],
  [1979.51351, 0.027], [1979.51355, 0.012], [1979.51359, 0.009], [1979.51363, 0.016],
];
const eColumns: P[] = [
  [1979.5167, 0.1], [1979.51672, 0.16], [1979.51674, 0.22], [1979.51676, 0.25], [1979.51678, 0.19], [1979.5168, 0.13],
  [1979.51682, 0.09], [1979.51684, 0.065], [1979.51686, 0.045], [1979.51688, 0.032], [1979.5169, 0.024], [1979.51692, 0.018],
  [1979.51694, 0.0155], [1979.51696, 0.02], [1979.51698, 0.03], [1979.517, 0.045], [1979.51702, 0.07], [1979.51704, 0.1],
  [1979.51706, 0.14],
  [1979.5171, 0.1], [1979.51712, 0.15], [1979.51714, 0.12], [1979.51716, 0.085], [1979.51718, 0.06], [1979.5172, 0.042],
  [1979.51722, 0.03], [1979.51724, 0.021], [1979.51726, 0.015], [1979.51728, 0.011], [1979.5173, 0.0085], [1979.51732, 0.0068],
  [1979.51734, 0.0075], [1979.51736, 0.01], [1979.51738, 0.014], [1979.5174, 0.02], [1979.51742, 0.03], [1979.51744, 0.045],
  [1979.51748, 0.07], [1979.5175, 0.12], [1979.51752, 0.2], [1979.51754, 0.3], [1979.51756, 0.43], [1979.51758, 0.38],
  [1979.5176, 0.28], [1979.51762, 0.2], [1979.51764, 0.14], [1979.51766, 0.1], [1979.51768, 0.07], [1979.5177, 0.05],
  [1979.51772, 0.036], [1979.51774, 0.05], [1979.51776, 0.075],
  [1979.51794, 0.05], [1979.51796, 0.035], [1979.51798, 0.025], [1979.518, 0.018], [1979.51802, 0.013], [1979.51804, 0.0095],
  [1979.51806, 0.007], [1979.51808, 0.0055], [1979.5181, 0.0045], [1979.51812, 0.0042], [1979.51814, 0.005], [1979.51816, 0.0065],
  [1979.51818, 0.009], [1979.5182, 0.013], [1979.51822, 0.019], [1979.51824, 0.028],
  [1979.51828, 0.04], [1979.5183, 0.06], [1979.51832, 0.09], [1979.51834, 0.13], [1979.51836, 0.17], [1979.51838, 0.14],
  [1979.5184, 0.1], [1979.51842, 0.07], [1979.51844, 0.05], [1979.51846, 0.035], [1979.51848, 0.025],
  [1979.51852, 0.05], [1979.51855, 0.08], [1979.51858, 0.13], [1979.51861, 0.2], [1979.51864, 0.3], [1979.51866, 0.4],
  [1979.51868, 0.35],
  [1979.5187, 0.5], [1979.51872, 0.65], [1979.51874, 0.8], [1979.51876, 0.7], [1979.51878, 0.5], [1979.5188, 0.35],
  [1979.51882, 0.25], [1979.51884, 0.17], [1979.51886, 0.12], [1979.51888, 0.08], [1979.5189, 0.055], [1979.51892, 0.038],
  [1979.51894, 0.026], [1979.51896, 0.018], [1979.51898, 0.012], [1979.519, 0.0085], [1979.51902, 0.006], [1979.51904, 0.0045],
  [1979.51906, 0.0035], [1979.51908, 0.005], [1979.5191, 0.008],
  [1979.51914, 0.15], [1979.51916, 0.22], [1979.51918, 0.3], [1979.5192, 0.25], [1979.51922, 0.18], [1979.51924, 0.13],
  [1979.51926, 0.09], [1979.51928, 0.065], [1979.5193, 0.045], [1979.51932, 0.032], [1979.51934, 0.022], [1979.51936, 0.016],
  [1979.51938, 0.012], [1979.5194, 0.015], [1979.51942, 0.022], [1979.51944, 0.035], [1979.51946, 0.055], [1979.51948, 0.085],
  [1979.5195, 0.13], [1979.51952, 0.2], [1979.51954, 0.28], [1979.51956, 0.22], [1979.51958, 0.15], [1979.5196, 0.1],
  [1979.51962, 0.07], [1979.51964, 0.09], [1979.51966, 0.14],
  [1979.51671, 0.13], [1979.51675, 0.2], [1979.51679, 0.15], [1979.51683, 0.075], [1979.51687, 0.04], [1979.51691, 0.022],
  [1979.51695, 0.017], [1979.51699, 0.035], [1979.51703, 0.08], [1979.51711, 0.12], [1979.51715, 0.1], [1979.51719, 0.05],
  [1979.51723, 0.025], [1979.51727, 0.013], [1979.51731, 0.0075], [1979.51735, 0.009], [1979.51739, 0.017], [1979.51743, 0.035],
  [1979.51751, 0.15], [1979.51755, 0.36], [1979.51759, 0.32], [1979.51763, 0.17], [1979.51767, 0.085], [1979.51771, 0.042],
  [1979.51775, 0.06], [1979.51779, 0.12], [1979.51782, 0.2], [1979.51785, 0.25], [1979.51788, 0.15], [1979.51791, 0.09],
  [1979.51793, 0.06], [1979.51797, 0.03], [1979.51801, 0.016], [1979.51805, 0.008], [1979.51809, 0.005], [1979.51813, 0.0045],
  [1979.51817, 0.008], [1979.51821, 0.016], [1979.51825, 0.035], [1979.51831, 0.075], [1979.51835, 0.15], [1979.51839, 0.12],
  [1979.51843, 0.06], [1979.51847, 0.03], [1979.51854, 0.065], [1979.5186, 0.17], [1979.51865, 0.35], [1979.51871, 0.58],
  [1979.51875, 0.75], [1979.51879, 0.42], [1979.51883, 0.2], [1979.51887, 0.1], [1979.51891, 0.046], [1979.51895, 0.022],
  [1979.51899, 0.01], [1979.51903, 0.005], [1979.51907, 0.0038], [1979.51909, 0.0065], [1979.51915, 0.18], [1979.51919, 0.28],
  [1979.51923, 0.15], [1979.51927, 0.075], [1979.51931, 0.038], [1979.51935, 0.019], [1979.51939, 0.013], [1979.51943, 0.028],
  [1979.51947, 0.07], [1979.51951, 0.16], [1979.51955, 0.25], [1979.51959, 0.12], [1979.51963, 0.08],
];
const eRise: P[] = [
  [1979.51966, 0.3], [1979.51968, 0.12], [1979.5197, 0.2], [1979.51972, 0.4], [1979.51974, 0.15], [1979.51976, 0.28],
  [1979.51978, 0.5], [1979.5198, 0.18], [1979.51982, 0.35], [1979.51984, 0.6], [1979.51986, 0.22], [1979.51988, 0.45],
  [1979.5199, 0.75], [1979.51992, 0.25], [1979.51994, 0.5], [1979.51996, 0.85], [1979.51998, 0.3], [1979.52, 0.6],
  [1979.52002, 0.95], [1979.52004, 0.2], [1979.52006, 0.45], [1979.52008, 0.8], [1979.5201, 0.3], [1979.52013, 0.6],
  [1979.52016, 1.0], [1979.52019, 0.35], [1979.52022, 0.7], [1979.52025, 1.05], [1979.52028, 0.4], [1979.52031, 0.75],
  [1979.52034, 0.95], [1979.52037, 0.42], [1979.5204, 0.65], [1979.52043, 1.0], [1979.52046, 0.45], [1979.52049, 0.8],
  [1979.52052, 1.1], [1979.52055, 0.5], [1979.52058, 0.85], [1979.52061, 1.2], [1979.52064, 0.55], [1979.52067, 0.9],
  [1979.5207, 1.3], [1979.52073, 0.6], [1979.52076, 1.1], [1979.52079, 1.6], [1979.52082, 0.8], [1979.52085, 1.5],
  [1979.52088, 2.2], [1979.52091, 1.1], [1979.52094, 2.0], [1979.52097, 3.0], [1979.521, 1.5], [1979.521, 3.8],
  [1979.52103, 2.5], [1979.52106, 4.0], [1979.52109, 1.9], [1979.52112, 3.0], [1979.52115, 4.5], [1979.52118, 2.3],
  [1979.52121, 3.5], [1979.52124, 5.5], [1979.52127, 3.0], [1979.5213, 4.5], [1979.52133, 7.0], [1979.52136, 3.8],
  [1979.52139, 6.0], [1979.52142, 9.0], [1979.52145, 5.0], [1979.52148, 7.5], [1979.52151, 11], [1979.52154, 6.5],
  [1979.52157, 9.5], [1979.5216, 13], [1979.52163, 8], [1979.52166, 11], [1979.52169, 14], [1979.52172, 9],
  [1979.52175, 12], [1979.52178, 14], [1979.52181, 8.5],
  [1979.51975, 0.1], [1979.5198, 0.12], [1979.51985, 0.14], [1979.5199, 0.15], [1979.51995, 0.18], [1979.52, 0.2],
  [1979.52005, 0.22], [1979.5201, 0.25], [1979.52015, 0.28], [1979.5202, 0.3], [1979.52025, 0.3], [1979.5203, 0.32],
  [1979.52035, 0.33], [1979.5204, 0.35], [1979.52045, 0.38], [1979.5205, 0.4], [1979.52055, 0.42], [1979.5206, 0.45],
  [1979.52065, 0.5], [1979.5207, 0.55], [1979.52075, 0.6], [1979.5208, 0.7],
  [1979.51975, 0.55], [1979.51985, 0.75], [1979.51995, 0.95], [1979.52005, 1.1], [1979.52015, 1.15], [1979.52025, 1.2],
  [1979.52035, 1.2], [1979.52045, 1.25], [1979.52055, 1.35], [1979.52065, 1.5], [1979.52075, 1.9], [1979.52085, 2.6],
  [1979.52095, 3.5], [1979.52105, 4.5], [1979.52115, 5.5], [1979.52125, 6.5], [1979.52135, 8.5], [1979.52145, 10.5],
  [1979.52155, 13], [1979.52165, 14.5], [1979.52175, 14],
];
const eBranch: P[] = [
  [1979.52088, 0.55], [1979.5209, 0.4], [1979.52092, 0.3], [1979.52094, 0.22], [1979.52096, 0.16], [1979.52098, 0.12],
  [1979.521, 0.09], [1979.52102, 0.07], [1979.52104, 0.055], [1979.52106, 0.045], [1979.52108, 0.06], [1979.5211, 0.08],
  [1979.52112, 0.11], [1979.52114, 0.15], [1979.52116, 0.2], [1979.52118, 0.27], [1979.5212, 0.35], [1979.521, 0.0155],
  [1979.5214, 0.35], [1979.52143, 0.25], [1979.52146, 0.18], [1979.5216, 0.3], [1979.52163, 0.22], [1979.52166, 0.16],
  [1979.52132, 0.1], [1979.52135, 0.07], [1979.52138, 0.05], [1979.52141, 0.06], [1979.52144, 0.085], [1979.52147, 0.055],
  [1979.5215, 0.045], [1979.52153, 0.06], [1979.52156, 0.08], [1979.5217, 0.12], [1979.52172, 0.09], [1979.52175, 0.065],
  [1979.52178, 0.05], [1979.52181, 0.04], [1979.52184, 0.055], [1979.52187, 0.075], [1979.5219, 0.1], [1979.52193, 0.13],
  [1979.52178, 0.035],
];
const ePeak: P[] = [
  [1979.52184, 12.5], [1979.52186, 7], [1979.52188, 10], [1979.52191, 13], [1979.52194, 8], [1979.52197, 11], [1979.522, 12.5],
  [1979.52203, 7.5], [1979.52206, 10], [1979.52209, 12], [1979.52212, 7], [1979.52215, 9.5], [1979.52218, 11.5],
  [1979.52221, 6.5], [1979.52224, 9], [1979.52227, 11], [1979.5223, 6], [1979.52233, 8.5], [1979.52236, 10.5],
  [1979.52239, 5.5], [1979.52242, 8], [1979.52245, 10], [1979.52248, 5], [1979.52251, 7.5], [1979.52254, 9],
  [1979.52257, 4.8], [1979.5226, 7], [1979.52263, 9.5], [1979.52266, 5.5], [1979.52269, 8.5], [1979.52272, 12],
  [1979.52275, 7], [1979.52278, 16], [1979.52281, 11], [1979.52284, 22], [1979.52287, 15], [1979.5229, 30], [1979.52293, 22],
  [1979.52296, 38], [1979.52299, 28], [1979.52302, 42], [1979.52305, 33], [1979.52308, 45], [1979.52311, 36], [1979.52314, 46],
  [1979.52317, 38], [1979.5232, 44], [1979.52323, 35], [1979.52326, 40], [1979.52329, 30],
  [1979.52185, 10], [1979.52189, 11.5], [1979.52192, 9], [1979.52195, 12], [1979.52198, 9.5], [1979.52201, 11], [1979.52204, 9],
  [1979.52207, 11.5], [1979.5221, 9], [1979.52213, 10.5], [1979.52216, 8], [1979.52219, 10], [1979.52222, 8.5], [1979.52225, 10],
  [1979.52228, 7.5], [1979.52231, 9.5], [1979.52234, 7], [1979.52237, 9], [1979.5224, 7], [1979.52243, 9], [1979.52246, 6.5],
  [1979.52249, 8.5], [1979.52252, 6], [1979.52255, 7.5], [1979.52258, 6], [1979.52261, 8], [1979.52264, 7], [1979.52267, 10],
  [1979.5227, 9], [1979.52273, 10], [1979.52276, 13], [1979.52279, 14], [1979.52282, 18], [1979.52285, 19], [1979.52288, 26],
  [1979.52291, 27], [1979.52294, 33], [1979.52297, 32], [1979.523, 40], [1979.52303, 38], [1979.52306, 44], [1979.52309, 41],
  [1979.52312, 45], [1979.52315, 43], [1979.52318, 42], [1979.52321, 40], [1979.52324, 38], [1979.52327, 36], [1979.5233, 33],
  [1979.52333, 28],
];

const toRows = (arr: P[]) => arr.map(([d, v]) => ({ d, v }));
const ionData = toRows([
  ...ionSeg1, ...ionSeg2, ...ionSeg3, ...ionSeg4, ...ionSeg5, ...ionSeg6, ...ionSeg7, ...ionSeg8, ...ionBandEdges,
  ...ionColumns, ...ionRise, ...ionBranch, ...ionPeak, ...ionDecline,
]);
const eData = toRows([...eOutlier, ...eSeg1, ...eColumns, ...eRise, ...eBranch, ...ePeak]);

const fmtY = (v: number) => {
  const e = Math.round(Math.log10(v));
  return `1.E${e < 0 ? '-' : '+'}${String(Math.abs(e)).padStart(2, '0')}`;
};

const FONT = 'Lato, "Open Sans", sans-serif';
const BLUE = '#5b9bd5';
const RED = '#c0504d';

const BlueDot = (p: any) => (
  <circle cx={p.cx} cy={p.cy} r={6.8} fill={BLUE} stroke="#2c5580" strokeOpacity={0.55} strokeWidth={0.8} />
);
const RedDot = (p: any) => <circle cx={p.cx} cy={p.cy} r={3.4} fill={RED} />;

export default function App() {
  return (
    <div style={{ position: 'absolute', left: 0, top: 0, width: 1039, height: 698, background: '#fff', fontFamily: FONT }}>
      <ScatterChart width={1039} height={698} margin={{ top: 49, right: 39, bottom: 0, left: 0 }}>
        <CartesianGrid stroke="#b8b8b8" strokeWidth={1.5} />
        <XAxis
          dataKey="d"
          type="number"
          domain={[1979.505, 1979.525]}
          ticks={xTicks}
          allowDataOverflow
          height={70}
          tickFormatter={(v: number) => v.toFixed(3)}
          tick={{ fontSize: 16, fill: '#404040', fontFamily: FONT }}
          tickSize={6}
          tickMargin={6}
          axisLine={{ stroke: '#868686', strokeWidth: 1.5 }}
          tickLine={{ stroke: '#868686' }}
        />
        <YAxis
          dataKey="v"
          type="number"
          scale="log"
          domain={[0.001, 10000]}
          ticks={yTicks}
          allowDataOverflow
          width={116}
          tickFormatter={fmtY}
          tick={{ fontSize: 18.5, fill: '#404040', fontFamily: FONT }}
          tickSize={6}
          tickMargin={10}
          axisLine={{ stroke: '#868686', strokeWidth: 1.5 }}
          tickLine={{ stroke: '#868686' }}
        />
        <ReferenceLine x={1979.525} stroke="#5a5a5a" strokeWidth={1.5} />
        <Scatter name="Voy e cts/cm^3" data={eData} shape={BlueDot} isAnimationActive={false} />
        <Scatter name="Voy ion cts/cm^3" data={ionData} shape={RedDot} isAnimationActive={false} />
      </ScatterChart>

      <div style={{ position: 'absolute', left: 0, width: 1039, top: 2, textAlign: 'center', fontSize: 26, fontWeight: 700, color: '#1a1a1a' }}>
        Voyager 2 Densities (PDS) versus Date
      </div>

      <div style={{ position: 'absolute', left: 120, width: 840, top: 672, textAlign: 'center', fontSize: 17, fontWeight: 700, color: '#1a1a1a' }}>
        Date
      </div>

      <div style={{ position: 'absolute', left: 20, top: 341, width: 0, height: 0 }}>
        <div style={{ position: 'absolute', transform: 'translate(-50%, -50%) rotate(-90deg)', whiteSpace: 'nowrap', fontSize: 18, fontWeight: 700, color: '#1a1a1a' }}>
          Density (cm<sup style={{ fontSize: 11, verticalAlign: 'super', lineHeight: 0 }}>-3</sup>)
        </div>
      </div>

      <div style={{ position: 'absolute', left: 160, top: 88, width: 218, height: 74, border: '1.5px solid #333', background: '#fff', boxSizing: 'border-box' }}>
        <svg width={30} height={72} style={{ position: 'absolute', left: 14, top: 0 }}>
          <circle cx={15} cy={17} r={6} fill={BLUE} />
          <circle cx={15} cy={58} r={2} fill={RED} />
        </svg>
        <div style={{ position: 'absolute', left: 39, top: 4, fontSize: 18.5, color: '#1a1a1a', whiteSpace: 'nowrap' }}>Voy e cts/cm^3</div>
        <div style={{ position: 'absolute', left: 39, top: 45, fontSize: 18.5, color: '#1a1a1a', whiteSpace: 'nowrap' }}>Voy ion cts/cm^3</div>
      </div>
    </div>
  );
}
